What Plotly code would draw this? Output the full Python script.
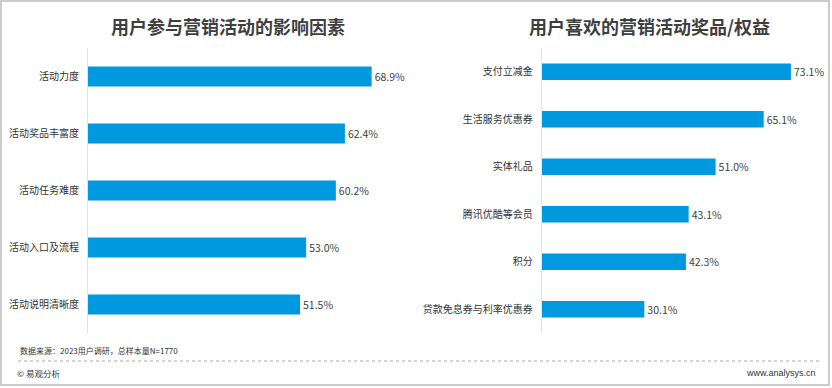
import plotly.graph_objects as go

W, H = 832, 388

left_title = "用户参与营销活动的影响因素"
left_cats = ["活动力度", "活动奖品丰富度", "活动任务难度", "活动入口及流程", "活动说明清晰度"]
left_vals = [68.9, 62.4, 60.2, 53.0, 51.5]

right_title = "用户喜欢的营销活动奖品/权益"
right_cats = ["支付立减金", "生活服务优惠券", "实体礼品", "腾讯优酷等会员", "积分", "贷款免息券与利率优惠券"]
right_vals = [73.1, 65.1, 51.0, 43.1, 42.3, 30.1]

source_text = "数据来源：2023用户调研，总样本量N=1770"
brand_text = "© 易观分析"
site_text = "www.analysys.cn"

FONT = "Noto Sans CJK SC"
BAR = "#0098df"

def px(x):
    return x / W

def py(y):
    return 1 - y / H

fig = go.Figure()
fig.add_trace(go.Bar(
    x=left_vals, y=left_cats, orientation="h", xaxis="x", yaxis="y",
    marker=dict(color=BAR, line=dict(width=0)),
    text=[f"{v:.1f}%" for v in left_vals], textposition="outside",
    textfont=dict(size=10.5, color="#404040", family=FONT), cliponaxis=False,
    hoverinfo="skip",
))
fig.add_trace(go.Bar(
    x=right_vals, y=right_cats, orientation="h", xaxis="x2", yaxis="y2",
    marker=dict(color=BAR, line=dict(width=0)),
    text=[f"{v:.1f}%" for v in right_vals], textposition="outside",
    textfont=dict(size=10.5, color="#404040", family=FONT), cliponaxis=False,
    hoverinfo="skip",
))

l_x0, l_x1 = 88, 400
r_x0, r_x1 = 541.7, 815
y_top, y_bot = 48, 333

fig.update_layout(
    width=W, height=H,
    margin=dict(l=0, r=0, t=0, b=0),
    paper_bgcolor="white", plot_bgcolor="white",
    showlegend=False, bargap=0.65,
    font=dict(family=FONT, size=10, color="#404040"),
    xaxis=dict(domain=[px(l_x0), px(l_x1)], range=[0, (l_x1 - l_x0) / 4.117],
               visible=False, fixedrange=True),
    yaxis=dict(domain=[py(y_bot), py(y_top)], autorange="reversed",
               showline=True, linecolor="#e3e3e3", linewidth=1,
               ticks="", ticklabelstandoff=6, showgrid=False, fixedrange=True,
               tickfont=dict(size=10, color="#333333", family=FONT)),
    xaxis2=dict(domain=[px(r_x0), px(r_x1)], range=[0, (r_x1 - r_x0) / 3.41],
                visible=False, anchor="y2", fixedrange=True),
    yaxis2=dict(domain=[py(y_bot), py(y_top)], autorange="reversed", anchor="x2",
                showline=True, linecolor="#e3e3e3", linewidth=1,
                ticks="", ticklabelstandoff=6, showgrid=False, fixedrange=True,
                tickfont=dict(size=10, color="#333333", family=FONT)),
)

annotations = [
    dict(text=f"<b>{left_title}</b>", x=px(228), y=py(26), xref="paper", yref="paper",
         showarrow=False, font=dict(size=18, color="#3f3f3f", family=FONT),
         xanchor="center", yanchor="middle"),
    dict(text=f"<b>{right_title}</b>", x=px(649), y=py(26), xref="paper", yref="paper",
         showarrow=False, font=dict(size=18, color="#3f3f3f", family=FONT),
         xanchor="center", yanchor="middle"),
    dict(text=source_text, x=px(18), y=py(350), xref="paper", yref="paper",
         showarrow=False, font=dict(size=8, color="#333333", family=FONT),
         xanchor="left", yanchor="middle"),
    dict(text=brand_text, x=px(15), y=py(373), xref="paper", yref="paper",
         showarrow=False, font=dict(size=8.5, color="#333333", family=FONT),
         xanchor="left", yanchor="middle"),
    dict(text=site_text, x=px(818), y=py(373), xref="paper", yref="paper",
         showarrow=False, font=dict(size=9, color="#333333", family="Liberation Sans"),
         xanchor="right", yanchor="middle"),
]
fig.update_layout(annotations=annotations)

shapes = [
    dict(type="rect", xref="paper", yref="paper", x0=px(1), x1=px(829), y0=py(1), y1=py(385),
         line=dict(color="#cccccc", width=2), fillcolor="rgba(0,0,0,0)", layer="above"),
    dict(type="line", xref="paper", yref="paper", x0=px(18), x1=px(820), y0=py(361), y1=py(361),
         line=dict(color="#aaaaaa", width=1, dash="dot")),
]
fig.update_layout(shapes=shapes)

fig.write_html("out.html", config={"displayModeBar": False},
               post_script="document.body.style.margin='0';")
